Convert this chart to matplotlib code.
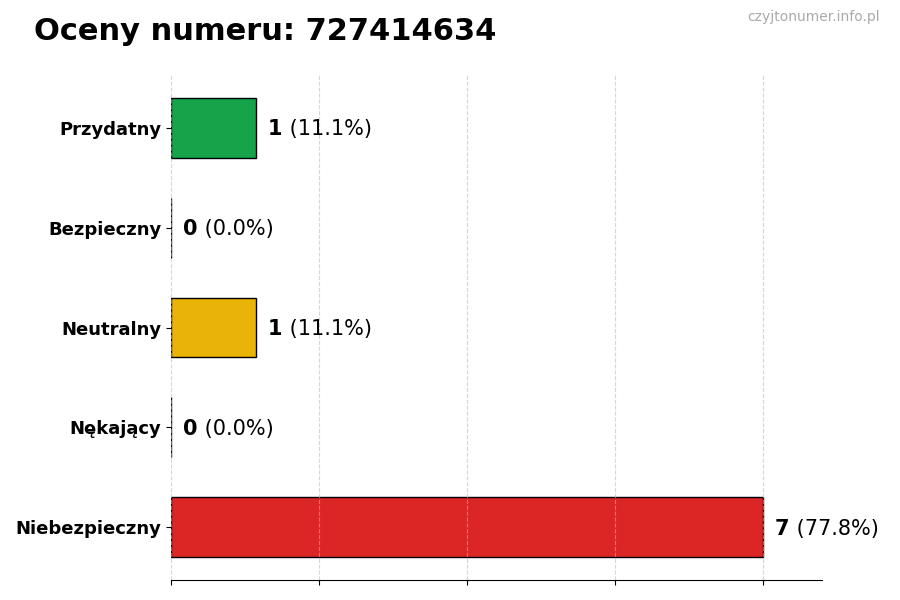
import matplotlib
matplotlib.use("Agg")
import matplotlib.pyplot as plt

numer = "727414634"
kategorie = ["Niebezpieczny", "Nękający", "Neutralny", "Bezpieczny", "Przydatny"]
wartosci = [7, 0, 1, 0, 1]
kolory = ["#dc2626", "#f97316", "#eab308", "#22c55e", "#16a34a"]

suma = sum(wartosci)
fig = plt.figure(figsize=(9, 6), dpi=100)
ax = fig.add_axes([0.19, 0.0333, 0.723, 0.8417])

pos = list(range(len(kategorie)))
ax.barh(pos, wartosci, height=0.6, color=kolory, edgecolor="black", linewidth=1, zorder=1)
ax.set_xlim(0, max(wartosci) * 1.1)
ax.set_xticks([max(wartosci) * i / 4 for i in range(5)])
ax.set_xticklabels([])
ax.set_yticks(pos)
ax.set_yticklabels(kategorie, fontsize=13, fontweight="bold")
ax.grid(axis="x", linestyle="--", color="#bbbbbb", alpha=0.6, linewidth=0.8, zorder=3)
ax.set_axisbelow(False)
for s in ["top", "right", "left"]:
    ax.spines[s].set_visible(False)

for p, v in zip(pos, wartosci):
    t1 = ax.annotate(f"{v}", (v, p), xytext=(9, -1), textcoords="offset points",
                     ha="left", va="center", fontsize=15, fontweight="bold")
    ax.annotate(f" ({v / suma * 100:.1f}%)", xy=(1, 0), xycoords=t1,
                ha="left", va="bottom", fontsize=15)

fig.text(0.038, 0.948, f"Oceny numeru: {numer}", fontsize=22, fontweight="bold",
         ha="left", va="center")
fig.text(0.978, 0.971, "czyjtonumer.info.pl", fontsize=10, color="#aaaaaa",
         ha="right", va="center")

fig.savefig("out.png", dpi=100)
